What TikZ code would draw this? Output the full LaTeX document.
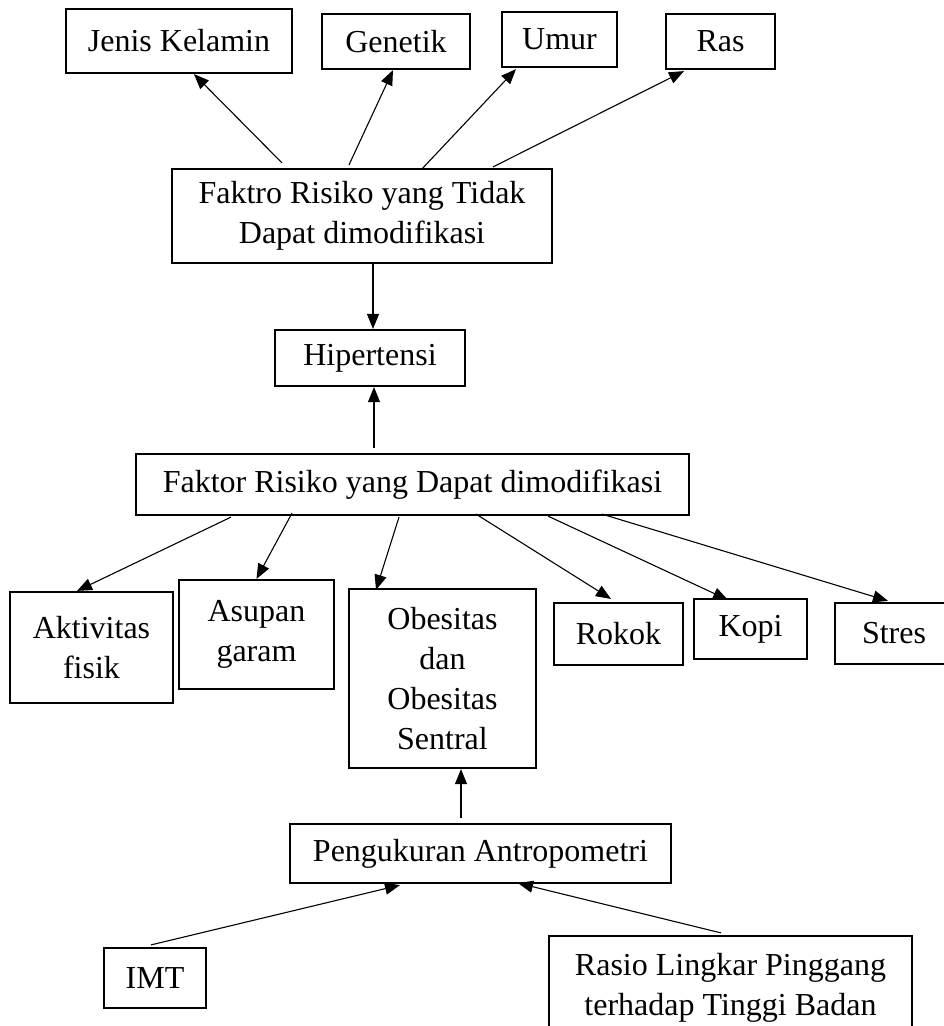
\documentclass[tikz,border=0pt]{standalone}
\usepackage{fontspec}
\setmainfont{Liberation Serif}
\usetikzlibrary{arrows.meta,calc}
\begin{document}
\begin{tikzpicture}[x=1pt, y=-1pt,
  box/.style={draw, line width=2.2pt, align=center, inner sep=0pt, font=\fontsize{32}{40}\selectfont},
  arrow/.style={-{Triangle[length=15pt,width=12pt]}, line width=1.1pt}
]
\useasboundingbox (0,0) rectangle (944,1026);
\clip (0,0) rectangle (944,1026);
% top row
\node[box, minimum width=226pt, minimum height=64pt] (jk) at (179,41) {Jenis Kelamin};
\node[box, minimum width=148pt, minimum height=55pt] (gen) at (396,41.5) {Genetik};
\node[box, minimum width=115pt, minimum height=55pt] (umur) at (559.5,39.5) {Umur};
\node[box, minimum width=109pt, minimum height=55pt] (ras) at (720.5,41.5) {Ras};
\node[box, minimum width=380pt, minimum height=94pt] (faktro) at (362,216) {Faktro Risiko yang Tidak\\Dapat dimodifikasi};
% middle
\node[box, minimum width=190pt, minimum height=56pt] (hip) at (370,358) {Hipertensi};
\node[box, minimum width=553pt, minimum height=61pt] (faktor) at (412.5,484.5) {Faktor Risiko yang Dapat dimodifikasi};
% modifiable factors
\node[box, minimum width=163pt, minimum height=111pt] (akt) at (91.5,647.5) {Aktivitas\\fisik};
\node[box, minimum width=155pt, minimum height=109pt] (asup) at (256.5,634.5) {Asupan\\garam};
\node[box, minimum width=187pt, minimum height=179pt] (obes) at (442.5,678.5) {Obesitas\\dan\\Obesitas\\Sentral};
\node[box, minimum width=129pt, minimum height=62pt] (rokok) at (618.5,634) {Rokok};
\node[box, minimum width=113pt, minimum height=60pt] (kopi) at (750.5,629) {Kopi};
\node[box, minimum width=118pt, minimum height=61pt] (stres) at (894,633.5) {Stres};
% bottom
\node[box, minimum width=381pt, minimum height=59pt] (peng) at (480.5,853.5) {Pengukuran Antropometri};
\node[box, minimum width=102pt, minimum height=60pt] (imt) at (155,978) {IMT};
\node[box, minimum width=363pt, minimum height=104pt] (rasio) at (730.5,988) {Rasio Lingkar Pinggang\\terhadap Tinggi Badan};
% arrows
\draw[arrow] ($(faktro.north)+(-80,-5)$) -- ($(jk.south)+(15,0)$);
\draw[arrow] ($(faktro.north)+(-13,-3)$) -- ($(gen.south)+(-3,0)$);
\draw[arrow] ($(faktro.north)+(60,1)$) -- ($(umur.south)+(-43.5,1)$);
\draw[arrow] ($(faktro.north)+(131,-1)$) -- ($(ras.south)+(-36.5,1)$);
\draw[arrow] ($(faktro.south)+(11,0)$) -- ($(hip.north)+(3,0)$);
\draw[arrow] ($(faktor.north)+(-38.5,-5)$) -- ($(hip.south)+(4,0)$);
\draw[arrow] ($(faktor.south)+(-181.5,1)$) -- ($(akt.north)+(-14.5,0)$);
\draw[arrow] ($(faktor.south)+(-120.5,-3)$) -- (asup.north);
\draw[arrow] ($(faktor.south)+(-13.5,1)$) -- ($(obes.north)+(-66.5,2)$);
\draw[arrow] ($(faktor.south)+(63.5,-2)$) -- ($(rokok.north)+(-7.5,-3)$);
\draw[arrow] ($(faktor.south)+(135.5,0)$) -- ($(kopi.north)+(-22.5,2)$);
\draw[arrow] ($(faktor.south)+(189.5,-2)$) -- ($(stres.north)+(-6,-1)$);
\draw[arrow] ($(peng.north)+(-19.5,-5)$) -- ($(obes.south)+(18.5,0)$);
\draw[arrow] ($(imt.north)+(-4,-2)$) -- ($(peng.south)+(-80.5,1)$);
\draw[arrow] ($(rasio.north)+(-9.5,-2)$) -- ($(peng.south)+(37.5,-1)$);
\end{tikzpicture}
\end{document}
